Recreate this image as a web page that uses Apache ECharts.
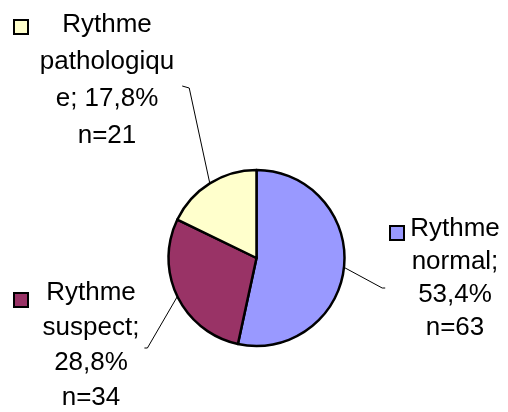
<!DOCTYPE html>
<html>
<head>
<meta charset="utf-8">
<script src="https://cdn.jsdelivr.net/npm/echarts@6/dist/echarts.min.js"></script>
<style>
  html, body { margin: 0; padding: 0; background: #fff; }
  #chart { width: 508px; height: 412px; }
</style>
</head>
<body>
<div id="chart"></div>
<script>
// répartition du rythme
const categories = ['Rythme normal', 'Rythme suspect', 'Rythme pathologique'];
const counts = [63, 34, 21];
// texte des étiquettes, coupé comme dans l'original
const labelHeads = ['Rythme\nnormal;\n', 'Rythme\nsuspect;\n', 'Rythme\npathologiqu\ne; '];
const colors = ['#9999FF', '#993366', '#FFFFCC'];

const total = counts.reduce((a, b) => a + b, 0);

const pieCenter = [256.5, 258];
const pieRadius = 88;

// position des étiquettes (centre du bloc), interligne, côté du trait de rappel
const labelPos = [
    { x: 455, y: 278, lh: 33, side: 'left', gap: 25, dy: 10, stub: 3 },
    { x: 91, y: 345, lh: 35, side: 'right', gap: 5, dy: 3, stub: 3 },
    { x: 107, y: 80, lh: 37, side: 'right', gap: 8, dy: 6, stub: 7 }
];
const keyPos = [
    { left: 389, top: 225 },
    { left: 13, top: 292 },
    { left: 13, top: 19 }
];

const font = 'Liberation Sans, Arial, sans-serif';

// point du bord du camembert au milieu de chaque tranche
function anchorOf(idx) {
    let before = 0;
    for (let i = 0; i < idx; i++) before += counts[i];
    let a = (before + counts[idx] / 2) / total * Math.PI * 2;
    return [pieCenter[0] + pieRadius * Math.sin(a), pieCenter[1] - pieRadius * Math.cos(a)];
}

let myChart = echarts.init(document.getElementById('chart'));

// une petite légende par tranche = la clé devant chaque étiquette
let legends = categories.map(function (name, i) {
    return {
        data: [name],
        left: keyPos[i].left,
        top: keyPos[i].top,
        orient: 'vertical',
        padding: 0,
        icon: 'rect',
        itemWidth: 14,
        itemHeight: 14,
        selectedMode: false,
        itemStyle: { borderColor: '#000', borderWidth: 2, borderJoin: 'miter' },
        formatter: function () { return ''; },
        textStyle: { fontSize: 1 }
    };
});

let option = {
    animation: false,
    color: colors,
    legend: legends,
    series: [
        {
            name: 'Rythme',
            type: 'pie',
            center: pieCenter,
            radius: pieRadius,
            startAngle: 90,
            clockwise: true,
            avoidLabelOverlap: false,
            itemStyle: { borderColor: '#000', borderWidth: 2.5 },
            emphasis: { disabled: true },
            label: {
                show: true,
                position: 'outside',
                color: '#000',
                fontFamily: font,
                fontSize: 26,
                formatter: function (p) {
                    let pct = (p.value / total * 100).toFixed(1).replace('.', ',');
                    let txt = labelHeads[p.dataIndex] + pct + '%\nn=' + p.value;
                    return txt.split('\n').map(function (s) { return '{t|' + s + '}'; }).join('\n');
                },
                rich: {
                    t: { fontFamily: font, fontSize: 26, color: '#000', align: 'center' }
                }
            },
            labelLine: {
                show: true,
                length: 20,
                length2: 6,
                lineStyle: { color: '#000', width: 1 }
            },
            labelLayout: function (params) {
                let pos = labelPos[params.dataIndex];
                let w = params.labelRect.width;
                let sign = pos.side === 'left' ? -1 : 1;
                let endX = pos.x + sign * (w / 2 + pos.gap);
                let endY = pos.y + pos.dy;
                return {
                    x: pos.x,
                    y: pos.y,
                    align: 'center',
                    verticalAlign: 'middle',
                    labelLinePoints: [
                        anchorOf(params.dataIndex),
                        [endX + sign * pos.stub, endY + (pos.side === 'right' && pos.stub > 5 ? 2 : 0)],
                        [endX, endY]
                    ]
                };
            },
            data: categories.map(function (name, i) {
                return {
                    name: name,
                    value: counts[i],
                    label: { rich: { t: { lineHeight: labelPos[i].lh } } }
                };
            })
        }
    ]
};
myChart.setOption(option);
</script>
</body>
</html>
